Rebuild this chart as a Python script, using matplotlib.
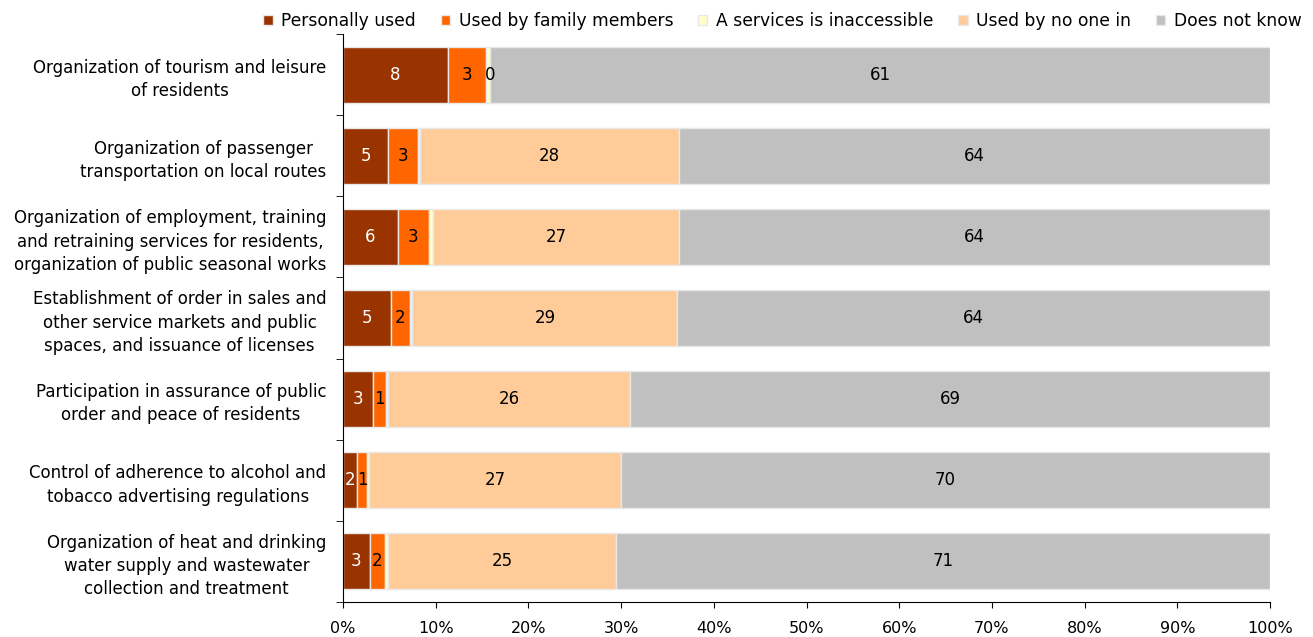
import numpy as np
import matplotlib.pyplot as plt
from matplotlib.ticker import PercentFormatter

categories = [
    "Organization of tourism and leisure\nof residents",
    "Organization of passenger\ntransportation on local routes",
    "Organization of employment, training\nand retraining services for residents,\norganization of public seasonal works",
    "Establishment of order in sales and\nother service markets and public\nspaces, and issuance of licenses",
    "Participation in assurance of public\norder and peace of residents",
    "Control of adherence to alcohol and\ntobacco advertising regulations",
    "Organization of heat and drinking\nwater supply and wastewater\ncollection and treatment",
]
series_names = ["Personally used", "Used by family members", "A services is inaccessible",
                "Used by no one in", "Does not know"]
personally = [8.2, 4.9, 5.9, 5.2, 3.2, 1.5, 2.9]
family = [3.0, 3.2, 3.4, 2.0, 1.4, 1.1, 1.6]
inaccessible = [0.3, 0.2, 0.4, 0.3, 0.3, 0.2, 0.4]
no_one = [0.0, 28.0, 26.6, 28.6, 26.1, 27.2, 24.6]
not_know = [61.0, 63.7, 63.7, 64.0, 69.0, 70.0, 70.6]

colors = ["#993300", "#FF6600", "#FFFFCC", "#FFCC99", "#C0C0C0"]
text_colors = ["white", "black", None, "black", "black"]  # None -> no labels

plt.rcParams['font.family'] = ['DejaVu Sans']
fs = 12

data = np.array([personally, family, inaccessible, no_one, not_know])
shares = data / data.sum(axis=0) * 100

fig = plt.figure(figsize=(13.13, 6.37), dpi=100)
ax = fig.add_axes([0.2612, 0.055, 0.7061, 0.8914])

y = np.arange(len(categories))
left = np.zeros(len(categories))
for i in range(len(series_names)):
    ax.barh(y, shares[i], left=left, height=0.69, color=colors[i],
            edgecolor="#E8E8E8", linewidth=1.0, label=series_names[i])
    if text_colors[i] is not None:
        for j in range(len(categories)):
            # empty "no one" segments only get a label on the first bar
            if i == 3 and data[i, j] == 0 and j != 0:
                continue
            ax.text(left[j] + shares[i, j] / 2, y[j], "%.0f" % data[i, j],
                    ha="center", va="center", color=text_colors[i], fontsize=fs)
    left += shares[i]

ax.set_xlim(0, 100)
ax.set_ylim(len(categories) - 0.5, -0.5)
ax.xaxis.set_major_locator(plt.MultipleLocator(10))
ax.xaxis.set_major_formatter(PercentFormatter(decimals=0))
ax.tick_params(axis="x", length=4, labelsize=fs - 0.5, pad=10)

ax.set_yticks(y)
ax.set_yticklabels(categories, fontsize=fs, ha="right", multialignment="center",
                   linespacing=1.38)
ax.tick_params(axis="y", which="major", length=0, pad=12)
ax.set_yticks(np.arange(len(categories) + 1) - 0.5, minor=True)
ax.tick_params(axis="y", which="minor", length=5)

for s in ["top", "right"]:
    ax.spines[s].set_visible(False)

fig.legend(loc="upper right", bbox_to_anchor=(1.003, 1.005), ncol=5, frameon=False,
           fontsize=fs + 0.3, handlelength=0.55, handleheight=0.55, handletextpad=0.5,
           columnspacing=1.45)

fig.savefig("out.png", dpi=100)
